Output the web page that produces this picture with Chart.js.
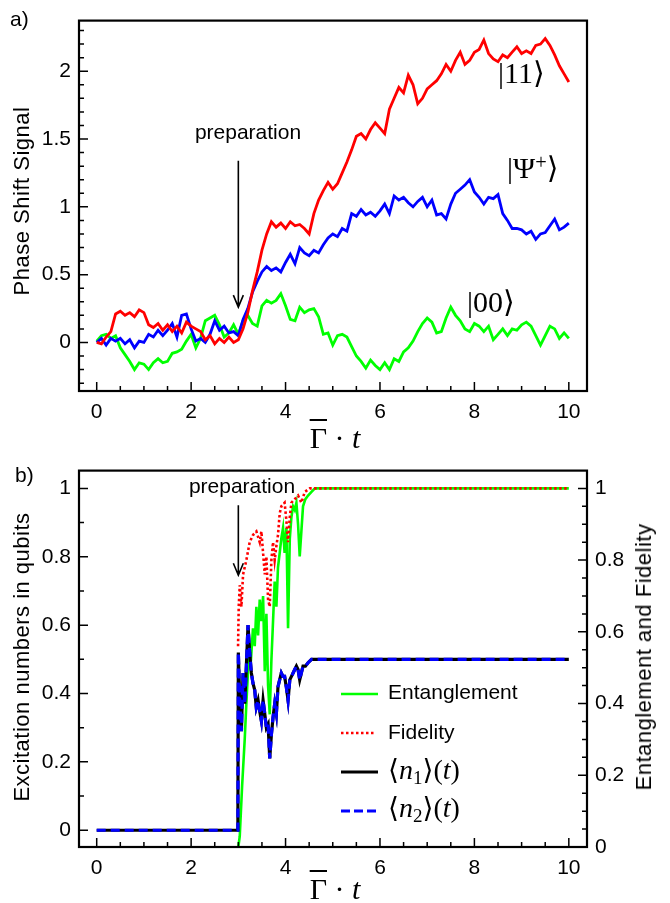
<!DOCTYPE html>
<html><head><meta charset="utf-8">
<script src="https://cdn.jsdelivr.net/npm/chart.js@4.4.1/dist/chart.umd.min.js"></script>
<style>
body{margin:0;background:#fff;}
#wrap{position:relative;width:670px;height:903px;overflow:hidden;font-family:"Liberation Sans",Arial,sans-serif;color:#000;}
canvas{position:absolute;left:0;}
.ov{position:absolute;white-space:nowrap;line-height:1;}
.cx{transform:translateX(-50%);}
.rot{transform:translate(-50%,-50%) rotate(-90deg);letter-spacing:0.5px;}
.serif{font-family:"Liberation Serif","DejaVu Serif",serif;}
.ov sub{font-size:0.68em;vertical-align:-0.28em;line-height:0;}
.ov sup{font-size:0.68em;vertical-align:0.45em;line-height:0;}
.bar{text-decoration:overline;text-decoration-thickness:2px;}
</style></head><body>
<div id="wrap">
<canvas id="cTop" width="670" height="450" style="top:0"></canvas>
<canvas id="cBot" width="670" height="453" style="top:450px"></canvas>

<div class="ov" style="left:10px;top:8px;font-size:21px">a)</div>
<div class="ov" style="left:15px;top:464px;font-size:21px">b)</div>
<div class="ov cx" style="left:248px;top:121px;font-size:21px">preparation</div>
<div class="ov cx" style="left:242px;top:475px;font-size:21px">preparation</div>
<div class="ov rot" style="left:22px;top:201px;font-size:22px">Phase Shift Signal</div>
<div class="ov rot" style="left:22px;top:657px;font-size:22px">Excitation numbers in qubits</div>
<div class="ov rot" style="left:644px;top:657px;font-size:22px">Entanglement and Fidelity</div>
<div class="ov cx serif" style="left:335px;top:423px;font-size:30px"><span class="bar">Γ</span> · <i>t</i></div>
<div class="ov cx serif" style="left:335px;top:874px;font-size:30px"><span class="bar">Γ</span> · <i>t</i></div>
<div class="ov serif" style="left:498px;top:58px;font-size:30px">|11⟩</div>
<div class="ov serif" style="left:507px;top:153px;font-size:30px">|Ψ<sup>+</sup>⟩</div>
<div class="ov serif" style="left:467px;top:287px;font-size:30px">|00⟩</div>
<div class="ov" style="left:388px;top:681px;font-size:21px">Entanglement</div>
<div class="ov" style="left:388px;top:721px;font-size:21px">Fidelity</div>
<div class="ov serif" style="left:388px;top:756px;font-size:28px">⟨<i>n</i><sub>1</sub>⟩(<i>t</i>)</div>
<div class="ov serif" style="left:388px;top:794px;font-size:28px">⟨<i>n</i><sub>2</sub>⟩(<i>t</i>)</div>
</div>
<script>
// ---------- data: panel a ----------
const tTop = [0,0.1,0.2,0.3,0.4,0.5,0.6,0.7,0.8,0.9,1,1.1,1.2,1.3,1.4,1.5,1.6,1.7,1.8,1.9,2,2.1,2.2,2.3,2.4,2.5,2.6,2.7,2.8,2.9,3,3.1,3.2,3.3,3.4,3.5,3.6,3.7,3.8,3.9,4,4.1,4.2,4.3,4.4,4.5,4.6,4.7,4.8,4.9,5,5.1,5.2,5.3,5.4,5.5,5.6,5.7,5.8,5.9,6,6.1,6.2,6.3,6.4,6.5,6.6,6.7,6.8,6.9,7,7.1,7.2,7.3,7.4,7.5,7.6,7.7,7.8,7.9,8,8.1,8.2,8.3,8.4,8.5,8.6,8.7,8.8,8.9,9,9.1,9.2,9.3,9.4,9.5,9.6,9.7,9.8,9.9,10];
const sig11 = [0,-0.01,0.04,0.08,0.21,0.23,0.2,0.22,0.19,0.24,0.22,0.13,0.11,0.14,0.09,0.13,0.08,0.12,0.07,0.15,0.12,0.1,0.08,0.02,0.05,-0.01,0.03,0,0.04,0,0.02,0.1,0.22,0.38,0.52,0.68,0.8,0.89,0.85,0.88,0.84,0.89,0.86,0.87,0.84,0.8,0.95,1.05,1.12,1.18,1.13,1.17,1.25,1.33,1.42,1.52,1.54,1.5,1.57,1.62,1.58,1.54,1.72,1.8,1.88,1.84,1.97,1.9,1.76,1.8,1.87,1.9,1.93,1.98,2.05,2,2.08,2.14,2.05,2.08,2.14,2.16,2.23,2.13,2.09,2.07,2.12,2.1,2.14,2.18,2.13,2.15,2.13,2.19,2.2,2.24,2.19,2.12,2.04,1.98,1.92];
const sigPsi = [0,0.03,-0.02,0.03,0.01,0.03,-0.01,0.02,-0.04,0.01,0,0.06,0.04,0.09,0.05,0.09,0.14,0.04,0.2,0.21,0.1,0.01,0.03,0,0.06,0.16,0.09,0.12,0.07,0.08,0.05,0.17,0.25,0.37,0.45,0.52,0.56,0.53,0.55,0.52,0.59,0.65,0.58,0.7,0.66,0.64,0.68,0.66,0.72,0.77,0.8,0.78,0.84,0.82,0.95,0.93,0.98,0.94,0.96,0.93,0.97,1.02,0.95,1.08,1.05,1.07,1.03,1,1.04,1.07,1,1.05,0.94,0.95,0.91,1.02,1.1,1.13,1.16,1.2,1.11,1.07,1.02,1.07,1.06,1.09,0.95,0.9,0.84,0.84,0.83,0.8,0.82,0.76,0.8,0.81,0.86,0.91,0.83,0.85,0.88];
const sig00 = [0.01,0.05,0.06,0.03,0.05,-0.04,-0.09,-0.14,-0.2,-0.15,-0.16,-0.2,-0.15,-0.12,-0.15,-0.14,-0.08,-0.07,-0.05,0.01,0.06,-0.04,0.03,0.16,0.18,0.2,0.13,0.04,0.07,0.13,0.06,0.16,0.2,0.14,0.12,0.27,0.31,0.29,0.31,0.36,0.27,0.17,0.16,0.26,0.22,0.24,0.25,0.19,0.06,0.07,-0.02,0.05,0.06,0.04,-0.03,-0.1,-0.14,-0.19,-0.13,-0.17,-0.2,-0.15,-0.2,-0.12,-0.14,-0.07,-0.04,0.01,0.08,0.14,0.18,0.15,0.07,0.08,0.18,0.26,0.2,0.16,0.1,0.08,0.14,0.12,0.08,0.12,0.02,0.06,0.1,0.05,0.1,0.09,0.13,0.15,0.12,0.05,-0.02,0.05,0.12,0.1,0.03,0.07,0.03];
const xTickVals = [0,2,4,6,8,10];
const xTickLabels = ['0','2','4','6','8','10'];
const yTopTickVals = [0,0.5,1,1.5,2];
const yTopTickLabels = ['0','0.5','1','1.5','2'];

// ---------- data: panel b ----------
const tN = [0,2.99,3.0,3.03,3.065,3.1,3.135,3.17,3.205,3.24,3.276,3.31,3.347,3.38,3.418,3.45,3.488,3.524,3.56,3.594,3.63,3.665,3.7,3.735,3.77,3.805,3.84,3.875,3.91,3.945,3.98,4.015,4.053,4.09,4.125,4.16,4.195,4.23,4.265,4.3,4.335,4.37,4.42,4.477,4.55,4.62,5,6,7,8,9,10];
const n1 = [0,0,0.52,0.38,0.29,0.46,0.37,0.48,0.6,0.52,0.46,0.43,0.41,0.36,0.38,0.35,0.32,0.38,0.34,0.3,0.31,0.21,0.28,0.33,0.37,0.34,0.42,0.44,0.46,0.45,0.45,0.42,0.38,0.44,0.45,0.46,0.47,0.48,0.47,0.44,0.46,0.48,0.48,0.49,0.5,0.5,0.5,0.5,0.5,0.5,0.5,0.5];
const n2 = [0,0,0.52,0.38,0.29,0.46,0.37,0.48,0.6,0.52,0.46,0.43,0.41,0.36,0.38,0.35,0.32,0.38,0.34,0.3,0.31,0.21,0.28,0.33,0.37,0.34,0.42,0.44,0.46,0.45,0.45,0.42,0.38,0.44,0.45,0.46,0.47,0.48,0.47,0.44,0.46,0.48,0.48,0.49,0.5,0.5,0.5,0.5,0.5,0.5,0.5,0.5];
const tEnt = [3.0,3.03,3.08,3.135,3.17,3.205,3.24,3.276,3.31,3.347,3.382,3.418,3.453,3.488,3.524,3.56,3.594,3.63,3.665,3.7,3.735,3.77,3.806,3.84,3.876,3.91,3.947,3.98,4.018,4.053,4.09,4.124,4.16,4.195,4.23,4.265,4.3,4.335,4.37,4.42,4.477,4.55,4.62,5,6,7,8,9,10];
const entanglement = [0,0.03,0.17,0.3,0.4,0.49,0.56,0.54,0.61,0.56,0.67,0.59,0.69,0.63,0.7,0.49,0.65,0.45,0.37,0.52,0.63,0.74,0.67,0.78,0.82,0.86,0.89,0.82,0.89,0.61,0.86,0.92,0.95,0.94,0.96,0.9,0.81,0.88,0.95,0.97,0.98,0.99,1,1,1,1,1,1,1];
const tFid = [2.994,3.008,3.03,3.065,3.1,3.17,3.24,3.31,3.382,3.453,3.488,3.524,3.56,3.594,3.63,3.665,3.7,3.735,3.77,3.806,3.84,3.876,3.91,3.98,4.018,4.053,4.09,4.124,4.195,4.265,4.336,4.406,4.512,5,6,7,8,9,10];
const fidelity = [0.56,0.67,0.73,0.67,0.76,0.8,0.85,0.87,0.88,0.85,0.88,0.82,0.76,0.81,0.69,0.67,0.8,0.85,0.8,0.84,0.87,0.93,0.95,0.96,0.91,0.85,0.92,0.96,0.97,0.98,0.96,0.99,1,1,1,1,1,1,1];
const yBotTickVals = [0,0.2,0.4,0.6,0.8,1];
const yBotTickLabels = ['0','0.2','0.4','0.6','0.8','1'];
const yRightTickVals = [0,0.2,0.4,0.6,0.8,1];
const yRightTickLabels = ['0','0.2','0.4','0.6','0.8','1'];
const prepTime = 3;

// ---------- helpers ----------
const SANS = '"Liberation Sans", Arial, sans-serif';
const pts = (xs, ys) => xs.map((x, i) => ({x, y: ys[i]}));

function frameTicks(spec) {
  return {
    id: 'frameTicks',
    afterDraw(chart) {
      const {ctx, chartArea: a} = chart;
      ctx.save();
      ctx.strokeStyle = '#000';
      ctx.lineWidth = 1.5;
      ctx.beginPath();
      spec.forEach(s => {
        const sc = chart.scales[s.id];
        const k0 = Math.round(s.from / s.minor), k1 = Math.round(s.to / s.minor);
        for (let k = k0; k <= k1; k++) {
          const v = k * s.minor;
          const r = v / s.major;
          const len = Math.abs(r - Math.round(r)) < 1e-6 ? 9 : 5;
          const p = sc.getPixelForValue(v);
          if (s.side === 'bottom') { ctx.moveTo(p, a.bottom); ctx.lineTo(p, a.bottom - len); }
          else if (s.side === 'left') { ctx.moveTo(a.left, p); ctx.lineTo(a.left + len, p); }
          else { ctx.moveTo(a.right, p); ctx.lineTo(a.right - len, p); }
        }
      });
      ctx.stroke();
      ctx.lineWidth = 2.2;
      ctx.strokeRect(a.left, a.top, a.right - a.left, a.bottom - a.top);
      ctx.restore();
    }
  };
}
function arrow(yFrom, yTo) {
  return {
    id: 'prepArrow',
    afterDraw(chart) {
      const ctx = chart.ctx;
      const x = chart.scales.x.getPixelForValue(prepTime);
      const y0 = chart.scales.y.getPixelForValue(yFrom);
      const y1 = chart.scales.y.getPixelForValue(yTo);
      ctx.save();
      ctx.strokeStyle = '#000';
      ctx.lineWidth = 1.6;
      ctx.beginPath();
      ctx.moveTo(x, y0); ctx.lineTo(x, y1);
      ctx.moveTo(x - 5, y1 - 12); ctx.lineTo(x, y1); ctx.lineTo(x + 5, y1 - 12);
      ctx.stroke();
      ctx.restore();
    }
  };
}
const legendSamples = {
  id: 'legendSamples',
  afterDraw(chart) {
    const ctx = chart.ctx;
    const items = [
      {y: 244, c: '#00ff00', d: [], w: 2.6, x2: 378},
      {y: 283, c: '#ff0000', d: [2.5, 2.5], w: 2.6, x2: 375},
      {y: 322, c: '#000000', d: [], w: 3.2, x2: 378},
      {y: 361, c: '#0000ff', d: [9, 4], w: 3.2, x2: 378}
    ];
    ctx.save();
    items.forEach(it => {
      ctx.strokeStyle = it.c; ctx.lineWidth = it.w; ctx.setLineDash(it.d);
      ctx.beginPath(); ctx.moveTo(341, it.y); ctx.lineTo(it.x2, it.y); ctx.stroke();
    });
    ctx.restore();
  }
};
const tickFont = {family: SANS, size: 21};
function xScale(h) {
  return {
    type: 'linear', min: -0.375, max: 10.385,
    grid: {display: false, drawTicks: false, tickLength: 0}, border: {display: false},
    ticks: {font: tickFont, color: '#000', padding: 9, maxRotation: 0, autoSkip: false,
            callback: (v, i) => xTickLabels[i]},
    afterBuildTicks: s => { s.ticks = xTickVals.map(v => ({value: v})); },
    afterFit: s => { s.height = h; }
  };
}
function yScale(min, max, vals, labels, pos, w) {
  return {
    type: 'linear', position: pos, min, max,
    grid: {display: false, drawTicks: false, tickLength: 0}, border: {display: false},
    ticks: {font: tickFont, color: '#000', padding: 8, autoSkip: false,
            callback: (v, i) => labels[i]},
    afterBuildTicks: s => { s.ticks = vals.map(v => ({value: v})); },
    afterFit: s => { s.width = w; }
  };
}
const common = {responsive: false, animation: false, devicePixelRatio: 1, events: [],
  plugins: {legend: {display: false}, tooltip: {enabled: false}},
  elements: {point: {radius: 0}, line: {tension: 0}}};

// ---------- panel a ----------
new Chart(document.getElementById('cTop'), {
  type: 'line',
  data: {datasets: [
    {label: '|11⟩', data: pts(tTop, sig11), borderColor: '#ff0000', borderWidth: 2.8},
    {label: '|Ψ+⟩', data: pts(tTop, sigPsi), borderColor: '#0000ff', borderWidth: 2.8},
    {label: '|00⟩', data: pts(tTop, sig00), borderColor: '#00ff00', borderWidth: 2.8}
  ]},
  options: Object.assign({}, common, {
    layout: {padding: {top: 10, right: 83, left: 0, bottom: 0}},
    scales: {
      x: xScale(59),
      y: yScale(-0.358, 2.373, yTopTickVals, yTopTickLabels, 'left', 79)
    }
  }),
  plugins: [frameTicks([
    {id: 'x', side: 'bottom', major: 2, minor: 0.5, from: 0, to: 10},
    {id: 'y', side: 'left', major: 0.5, minor: 0.1, from: -0.3, to: 2.3}
  ]), arrow(1.34, 0.26)]
});

// ---------- panel b ----------
new Chart(document.getElementById('cBot'), {
  type: 'line',
  data: {datasets: [
    {label: '⟨n2⟩(t)', data: pts(tN, n2), borderColor: '#0000ff', borderWidth: 3.2, borderDash: [9, 5], yAxisID: 'y'},
    {label: '⟨n1⟩(t)', data: pts(tN, n1), borderColor: '#000000', borderWidth: 3.2, yAxisID: 'y'},
    {label: 'Fidelity', data: pts(tFid, fidelity), borderColor: '#ff0000', borderWidth: 2.6, borderDash: [2.5, 2.5], yAxisID: 'y1'},
    {label: 'Entanglement', data: pts(tEnt, entanglement), borderColor: '#00ff00', borderWidth: 2.6, yAxisID: 'y1'}
  ]},
  options: Object.assign({}, common, {
    layout: {padding: {top: 16, right: 0, left: 0, bottom: 0}},
    scales: {
      x: xScale(56),
      y: yScale(-0.049, 1.052, yBotTickVals, yBotTickLabels, 'left', 79),
      y1: yScale(0, 1.0496, yRightTickVals, yRightTickLabels, 'right', 83)
    }
  }),
  plugins: [frameTicks([
    {id: 'x', side: 'bottom', major: 2, minor: 0.5, from: 0, to: 10},
    {id: 'y', side: 'left', major: 0.2, minor: 0.1, from: 0, to: 1},
    {id: 'y1', side: 'right', major: 0.2, minor: 0.05, from: 0, to: 1}
  ]), arrow(0.951, 0.746), legendSamples]
});
</script>
</body></html>
